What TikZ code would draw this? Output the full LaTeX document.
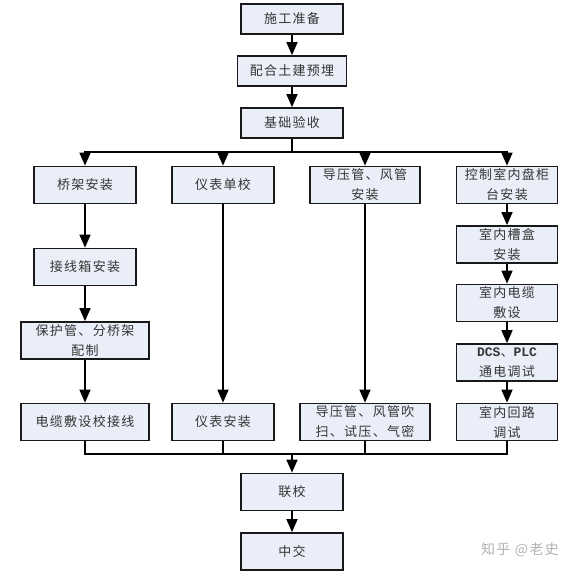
\documentclass[tikz,border=0pt]{standalone}
\usepackage{fontspec}
\setmainfont{Noto Sans CJK SC}[LetterSpace=10]
\newfontfamily\monofont{Liberation Mono}
\usetikzlibrary{arrows.meta}
\definecolor{boxfill}{HTML}{E9EEF8}
\definecolor{boxtext}{HTML}{353535}
\tikzset{box/.style={draw=black!90,line width=1.7pt,fill=boxfill,text=boxtext,
		inner sep=0pt,align=center,minimum width=#1,minimum height=37,
		font=\fontsize{13}{20}\selectfont},
	box/.default=102,
	flat/.style={minimum height=30},
	arr/.style={draw,line width=1.6pt,-{Triangle[width=11pt,length=13pt]}},
	link/.style={draw,line width=1.4pt},
	mark text/.style={text=black!30,font=\fontsize{14}{14}\selectfont}}

\begin{document}
\begin{tikzpicture}[x=1pt,y=-1pt]
	\useasboundingbox (0,0) rectangle (581,578);
	\node[box,flat] (sgzb) at (292,19) {施工准备};
	\node[box=109,flat] (phtj) at (292,71) {配合土建预埋};
	\node[box,flat] (jcys) at (292,123) {基础验收};
	\node[box] (qjaz) at (85,185) {桥架安装};
	\node[box] (jxx) at (85,267) {接线箱安装};
	\node[box=128] (bhg) at (85,340.5) {保护管、分桥架\\配制};
	\node[box=128] (dlfs) at (85,422) {电缆敷设校接线};
	\node[box] (ybdj) at (223,185) {仪表单校};
	\node[box] (ybaz) at (223,422) {仪表安装};
	\node[box=110] (dyg) at (365,185) {导压管、风管\\安装};
	\node[box=130] (dygcs) at (365,422) {导压管、风管吹\\扫、试压、气密};
	\node[box=101] (kzs) at (507,185) {控制室内盘柜\\台安装};
	\node[box=101] (cnc) at (507,244.5) {室内槽盒\\安装};
	\node[box=101] (cndl) at (507,303) {室内电缆\\敷设};
	\node[box=101] (dcs) at (507,362.5) {{\monofont\bfseries DCS}、{\monofont\bfseries PLC}\\通电调试};
	\node[box=101] (cnhl) at (507,422) {室内回路\\调试};
	\node[box] (lx) at (292,492) {联校};
	\node[box] (zj) at (292,551.5) {中交};
	\node[mark text] (wm) at (520,550) {知乎 @老史};
	\coordinate (fork) at (292,152);
	\coordinate (merge) at (292,454);
	\draw[arr] (sgzb) -- (phtj);
	\draw[arr] (phtj) -- (jcys);
	\draw[link] (jcys) -- (fork);
	\foreach \n in {qjaz,ybdj,dyg,kzs}
		\draw[arr] (fork) -| (\n);
	\draw[arr] (qjaz) -- (jxx);
	\draw[arr] (jxx) -- (bhg);
	\draw[arr] (bhg) -- (dlfs);
	\draw[arr] (ybdj) -- (ybaz);
	\draw[arr] (dyg) -- (dygcs);
	\draw[arr] (kzs) -- (cnc);
	\draw[arr] (cnc) -- (cndl);
	\draw[arr] (cndl) -- (dcs);
	\draw[arr] (dcs) -- (cnhl);
	\foreach \n in {dlfs,ybaz,dygcs,cnhl}
		\draw[link] (\n) |- (merge);
	\draw[arr] (merge) -- (lx);
	\draw[arr] (lx) -- (zj);
\end{tikzpicture}
\end{document}
